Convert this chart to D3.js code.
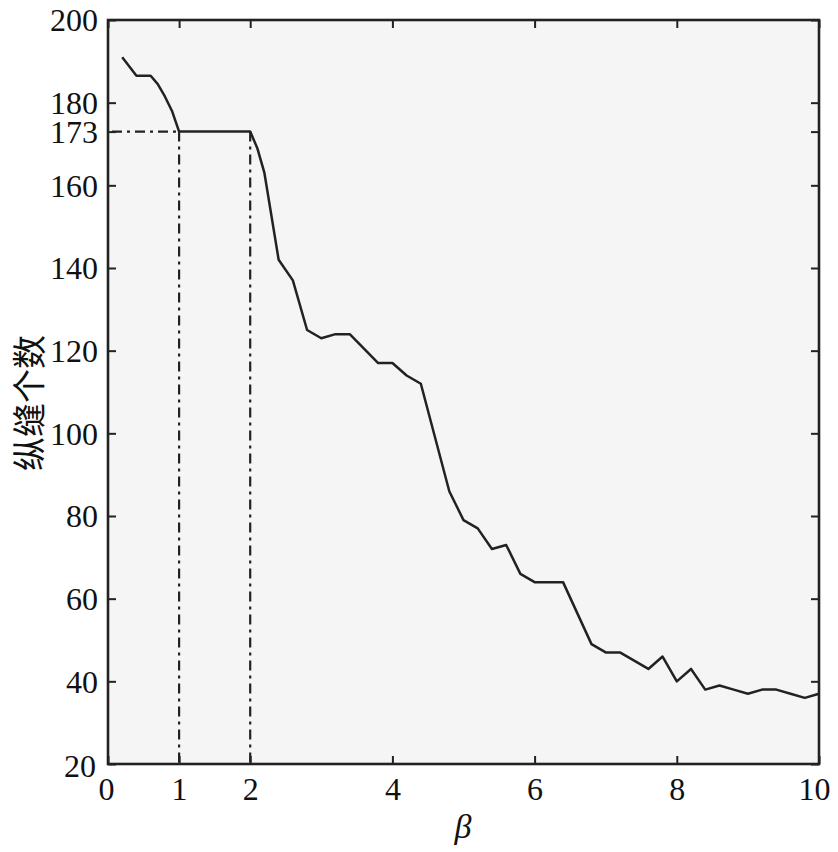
<!DOCTYPE html>
<html>
<head>
<meta charset="utf-8">
<script src="https://cdn.jsdelivr.net/npm/d3@7"></script>
<style>
  html, body { margin: 0; padding: 0; background: #fff; }
  svg { display: block; }
  svg text { font-family: "Liberation Serif", "Times New Roman", Times, serif; }
</style>
</head>
<body>
<svg id="chart" width="838" height="852"></svg>
<script>
// ---- data ----
const betaValues = [0.2, 0.4, 0.6, 0.7, 0.8, 0.9, 1.0, 1.2, 1.4, 1.6, 1.8, 2.0, 2.1, 2.2, 2.4, 2.6, 2.8, 3.0, 3.2, 3.4, 3.6, 3.8, 4.0, 4.2, 4.4, 4.6, 4.8, 5.0, 5.2, 5.4, 5.6, 5.8, 6.0, 6.2, 6.4, 6.6, 6.8, 7.0, 7.2, 7.4, 7.6, 7.8, 8.0, 8.2, 8.4, 8.6, 8.8, 9.0, 9.2, 9.4, 9.6, 9.8, 10.0];
const seamCounts = [191, 186.5, 186.5, 184.5, 181.5, 178, 173, 173, 173, 173, 173, 173, 169, 163, 142, 137, 125, 123, 124, 124, 120.5, 117, 117, 114, 112, 99, 86, 79, 77, 72, 73, 66, 64, 64, 64, 56.5, 49, 47, 47, 45, 43, 46, 40, 43, 38, 39, 38, 37, 38, 38, 37, 36, 37];
const xTicks = [0, 1, 2, 4, 6, 8, 10];
const yTicks = [20, 40, 60, 80, 100, 120, 140, 160, 173, 180, 200];
const markX = [1, 2];
const markY = 173;
const xLabel = "β";
const yLabel = "纵缝个数";

// ---- layout ----
const svg = d3.select("#chart");
const L = 108, R = 819, T = 20, B = 764;
const x = d3.scaleLinear().domain([0, 10]).range([L, R]);
const y = d3.scaleLinear().domain([20, 200]).range([B, T]);
const ink = "#222";
const font = "'Liberation Serif', 'Times New Roman', Times, serif";

// plot background
svg.append("rect").attr("x", L).attr("y", T).attr("width", R - L).attr("height", B - T)
  .attr("fill", "#f5f5f5");

// reference dash-dot lines
const dash = "10,5,3,5";
svg.append("line")
  .attr("x1", x(0) + 4).attr("x2", x(markX[0])).attr("y1", y(markY)).attr("y2", y(markY))
  .attr("stroke", ink).attr("stroke-width", 2.2).attr("stroke-dasharray", dash);
markX.forEach(v => {
  svg.append("line")
    .attr("x1", x(v)).attr("x2", x(v)).attr("y1", y(markY)).attr("y2", y(20))
    .attr("stroke", ink).attr("stroke-width", 2.2).attr("stroke-dasharray", dash);
});

// curve
const pts = betaValues.map((b, i) => [b, seamCounts[i]]);
svg.append("path").datum(pts)
  .attr("fill", "none").attr("stroke", ink).attr("stroke-width", 2.5)
  .attr("stroke-linejoin", "round")
  .attr("d", d3.line().x(d => x(d[0])).y(d => y(d[1])));

// axes (ticks inward, mirrored)
const tickLen = 8;
const axB = svg.append("g").attr("transform", `translate(0,${B})`)
  .call(d3.axisBottom(x).tickValues(xTicks).tickSize(-tickLen).tickPadding(14).tickFormat(d3.format("d")));
const axT = svg.append("g").attr("transform", `translate(0,${T})`)
  .call(d3.axisTop(x).tickValues(xTicks).tickSize(-tickLen).tickFormat(""));
const axL = svg.append("g").attr("transform", `translate(${L},0)`)
  .call(d3.axisLeft(y).tickValues(yTicks).tickSize(-tickLen).tickPadding(10).tickFormat(d3.format("d")));
const axR = svg.append("g").attr("transform", `translate(${R},0)`)
  .call(d3.axisRight(y).tickValues(yTicks).tickSize(-tickLen).tickFormat(""));

[axB, axT, axL, axR].forEach(g => {
  g.attr("font-family", font).attr("font-size", 32);
  g.select(".domain").remove();
  g.selectAll(".tick line").attr("stroke", ink).attr("stroke-width", 2);
  g.selectAll("text").attr("fill", "#111").attr("font-family", font).style("font-size", "32px");
});
axL.selectAll(".tick text").attr("dy", "0.34em");
axL.selectAll(".tick").filter(d => d === 20).select("text").attr("dy", "0.38em").attr("x", -12);
axB.selectAll(".tick text").attr("dy", "0.68em");
axB.selectAll(".tick").filter(d => d === 0).select("text").attr("x", -2);
axB.selectAll(".tick").filter(d => d === 10).select("text").attr("x", -5);

// frame
svg.append("rect").attr("x", L).attr("y", T).attr("width", R - L).attr("height", B - T)
  .attr("fill", "none").attr("stroke", ink).attr("stroke-width", 2.6);

// axis titles
svg.append("text").attr("x", 463).attr("y", 838).attr("text-anchor", "middle")
  .attr("font-family", font).style("font-style", "italic").style("font-size", "34px")
  .attr("fill", "#111").text(xLabel);
svg.append("text")
  .attr("transform", `translate(42,403) rotate(-90)`).attr("text-anchor", "middle")
  .style("font-family", "'Noto Sans CJK SC', sans-serif").style("font-size", "34px")
  .attr("fill", "#111").text(yLabel);
</script>
</body>
</html>
